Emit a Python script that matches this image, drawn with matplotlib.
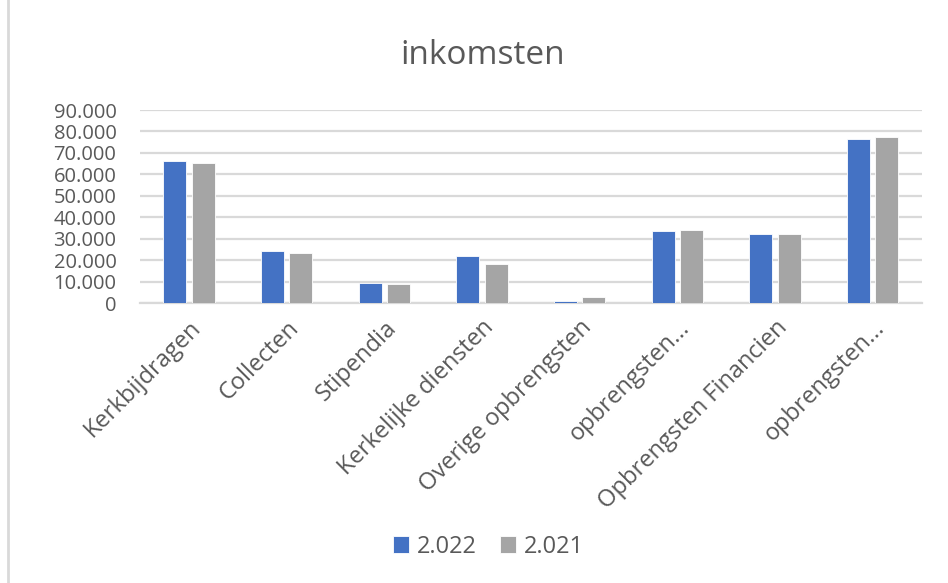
import numpy as np
import matplotlib.pyplot as plt
from matplotlib.lines import Line2D
from matplotlib.ticker import FuncFormatter

# data
categories = ['Kerkbijdragen', 'Collecten', 'Stipendia', 'Kerkelijke diensten',
              'Overige opbrengsten', 'opbrengsten...', 'Opbrengsten Financien',
              'opbrengsten...']
waarden_2022 = [66400, 24400, 9600, 22000, 1000, 33700, 32400, 76400]
waarden_2021 = [65200, 23300, 9000, 18300, 2800, 34300, 32300, 77600]
series_labels = ['2.022', '2.021']

plt.rcParams['font.family'] = ['Open Sans', 'DejaVu Sans']
tekst = '#595959'

fig = plt.figure(figsize=(9.48, 5.83), dpi=100)
ax = fig.add_axes([0.1477, 0.4798, 0.9722 - 0.1477, 0.8113 - 0.4798])

x = np.arange(len(categories))
w = 0.235
ax.bar(x - 0.145, waarden_2022, w, color='#4472c4', edgecolor='white', linewidth=0.6,
       label=series_labels[0], zorder=3)
ax.bar(x + 0.145, waarden_2021, w, color='#a5a5a5', edgecolor='white', linewidth=0.6,
       label=series_labels[1], zorder=3)

ax.set_xlim(-0.5, len(categories) - 0.5)
ax.set_ylim(0, 90000)
ax.set_yticks(np.arange(0, 90001, 10000))
ax.yaxis.set_major_formatter(FuncFormatter(lambda v, p: f'{int(v):,}'.replace(',', '.')))
ax.grid(axis='y', color='#d9d9d9', linewidth=1.6, zorder=0)
for s in ['top', 'right', 'left']:
    ax.spines[s].set_visible(False)
ax.spines['bottom'].set_color('#d9d9d9')
ax.spines['bottom'].set_linewidth(1.6)
ax.tick_params(axis='both', length=0, colors=tekst)
ax.tick_params(axis='y', pad=17, labelsize=14.5)

ax.set_xticks(x)
ax.set_xticklabels(categories, rotation=45, ha='right', rotation_mode='anchor',
                   fontsize=17, color=tekst)
ax.tick_params(axis='x', pad=9)

fig.text(0.509, 0.905, 'inkomsten', ha='center', va='center', fontsize=24, color=tekst)

fig.legend(loc='center', bbox_to_anchor=(0.515, 0.062), ncol=2, frameon=False,
           fontsize=17, labelcolor=tekst, handlelength=0.7, handleheight=0.7,
           handletextpad=0.3, columnspacing=1.0)

fig.add_artist(Line2D([0.008, 0.008], [0, 1], transform=fig.transFigure,
                      color='#d9d9d9', linewidth=2))

fig.savefig('out.png', dpi=100)
